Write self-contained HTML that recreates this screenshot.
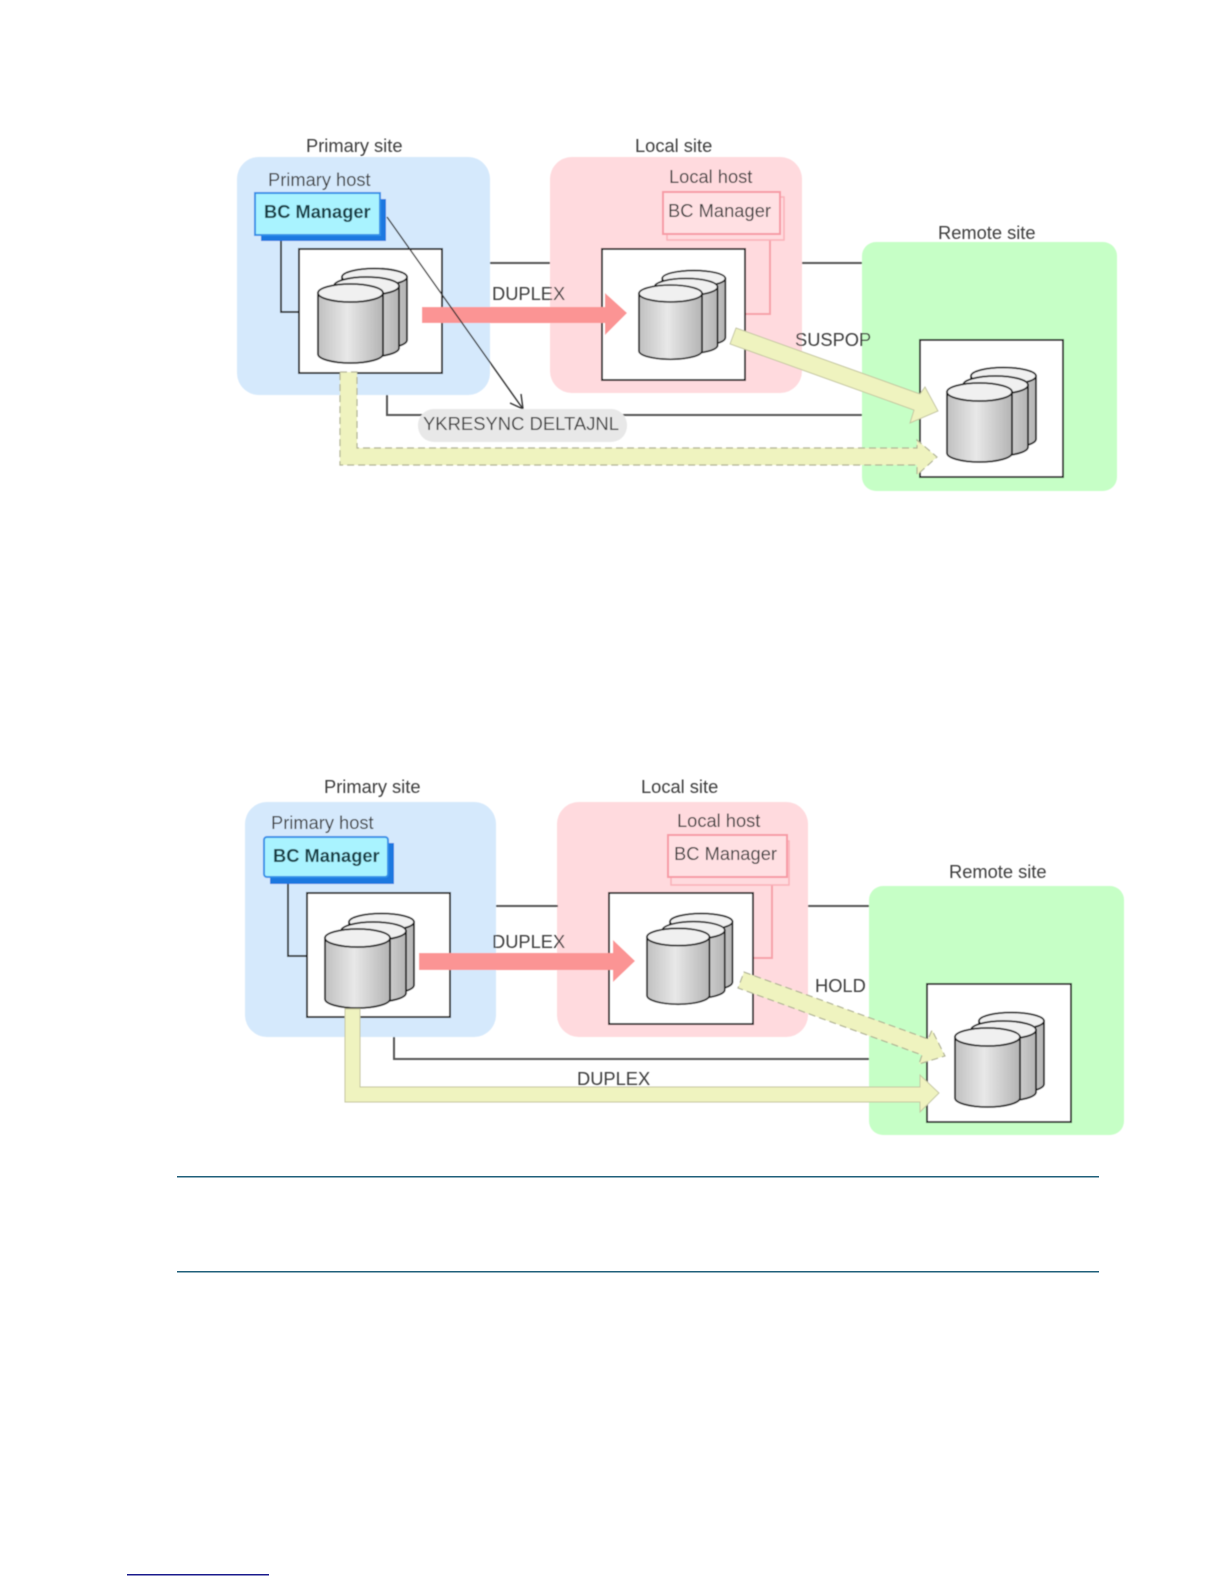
<!DOCTYPE html>
<html>
<head>
<meta charset="utf-8">
<style>
html,body{margin:0;padding:0;background:#fff;width:1224px;height:1584px;overflow:hidden}
svg{display:block}
text{font-family:"Liberation Sans",sans-serif;font-size:18.3px;fill:#3c3c3c}
.b{font-weight:bold;fill:#123c44}
.st{fill:#fff;stroke:#222;stroke-width:2}
.ln{fill:none;stroke:#555;stroke-width:2}
.pk{fill:none;stroke:#f7a0a8;stroke-width:2}
.yo{fill:#eff3bf;stroke:#c4c6a0;stroke-width:1}
.yd{fill:#eff3bf;stroke:#b0b294;stroke-width:1.2;stroke-dasharray:7 4}
.c{stroke:#1c1c1c;stroke-width:1.8}
</style>
</head>
<body>
<svg width="1224" height="1584" viewBox="0 0 1224 1584" xmlns="http://www.w3.org/2000/svg">
<defs>
<linearGradient id="g" x1="0" x2="1" y1="0" y2="0">
<stop offset="0" stop-color="#c0c0c0"/><stop offset=".45" stop-color="#e8e8e8"/><stop offset="1" stop-color="#b4b4b4"/>
</linearGradient>
<filter id="bl" x="-2%" y="-2%" width="104%" height="104%"><feGaussianBlur stdDeviation="0.6"/></filter>
<g id="cy">
<g class="c">
<path d="M24 9V72A32.500 9 0 0 0 89 72V9Z" fill="url(#g)"/><ellipse cx="56.500" cy="9" rx="32.500" ry="8.500" fill="#f0f0f0"/>
<path d="M16 18V80A32.500 9 0 0 0 81 80V18Z" fill="url(#g)"/><ellipse cx="48.500" cy="18" rx="32.500" ry="9" fill="#f0f0f0"/>
<path d="M0 25V86A32.500 9 0 0 0 65 86V25Z" fill="url(#g)"/><ellipse cx="32.500" cy="25" rx="32.500" ry="9" fill="#f0f0f0"/>
</g>
</g>
</defs>
<g filter="url(#bl)">
<!-- Diagram 1 -->
<rect x="237" y="157" width="253" height="238" rx="22" fill="#d5e9fc"/>
<rect x="550" y="157" width="252" height="236" rx="22" fill="#ffdade"/>
<rect x="862" y="242" width="255" height="249" rx="14" fill="#c6ffc6"/>
<path class="ln" d="M490 263H550M802 263H862M387 395V415H862"/>
<path class="ln" style="stroke:#333" d="M281 241V312H299"/>
<path class="pk" d="M770 240V314H745"/>
<rect x="299" y="249" width="143" height="124" class="st"/>
<rect x="602" y="249" width="143" height="131" class="st"/>
<rect x="920" y="340" width="143" height="137" class="st"/>
<use href="#cy" transform="translate(318 268)"/>
<use href="#cy" transform="translate(639 270) scale(.97 .94)"/>
<use href="#cy" transform="translate(947 367)"/>
<rect x="261" y="199" width="125" height="42" fill="#1a78e0"/>
<rect x="255" y="193" width="125" height="42" fill="#a9f3ff" stroke="#2f8fe8" stroke-width="2"/>
<rect x="667" y="197" width="117" height="43" fill="none" stroke="#f9b0b8" stroke-width="1.500"/>
<rect x="663" y="192" width="117" height="42" fill="#ffe0e3" stroke="#f79aa4" stroke-width="2"/>
<path d="M422 307H605V293L627 313L605 335V323H422Z" fill="#fb9494"/>
<path class="yo" d="M736 328L920 394L925 387L938 411L910 423L914 410L730 344Z"/>
<path class="yd" d="M340 372H357V448H917V440L937 457L917 475V465H340Z"/>
<path d="M387 217L523 409M523 409L510 403M523 409L521 394" fill="none" stroke="#333" stroke-width="1.400"/>
<rect x="418" y="409" width="209" height="33" rx="16" fill="#e8e8e8"/>
<text x="306" y="152">Primary site</text>
<text x="268" y="186">Primary host</text>
<text x="264" y="218" class="b">BC Manager</text>
<text x="635" y="152">Local site</text>
<text x="669" y="183">Local host</text>
<text x="668" y="217" textLength="103">BC Manager</text>
<text x="938" y="239">Remote site</text>
<text x="492" y="300">DUPLEX</text>
<text x="795" y="346">SUSPOP</text>
<text x="423" y="430" textLength="196" lengthAdjust="spacingAndGlyphs">YKRESYNC DELTAJNL</text>

<!-- Diagram 2 -->
<rect x="245" y="802" width="251" height="235" rx="22" fill="#d5e9fc"/>
<rect x="557" y="802" width="251" height="235" rx="22" fill="#ffdade"/>
<rect x="869" y="886" width="255" height="249" rx="14" fill="#c6ffc6"/>
<path class="ln" d="M496 906H558M808 906H869M394 1037V1059H869"/>
<path class="ln" style="stroke:#333" d="M288 884V956H307"/>
<path class="pk" d="M772 885V958H753"/>
<rect x="307" y="893" width="143" height="124" class="st"/>
<rect x="609" y="893" width="144" height="131" class="st"/>
<rect x="927" y="984" width="144" height="138" class="st"/>
<use href="#cy" transform="translate(325 913)"/>
<use href="#cy" transform="translate(647 913) scale(.96 .96)"/>
<use href="#cy" transform="translate(955 1012)"/>
<rect x="270" y="843" width="124" height="41" fill="#1a78e0"/>
<rect x="264" y="837" width="124" height="40" rx="3" fill="#a9f3ff" stroke="#2f8fe8" stroke-width="2"/>
<rect x="671" y="841" width="118" height="44" fill="none" stroke="#f9b0b8" stroke-width="1.500"/>
<rect x="668" y="835" width="119" height="42" fill="#ffe0e3" stroke="#f79aa4" stroke-width="2"/>
<path d="M419 953H613V940L635 961L613 982V970H419Z" fill="#fb9494"/>
<path class="yd" d="M744 972L928 1039L932 1030L945 1056L919 1064L922 1055L738 988Z"/>
<path class="yo" d="M345 1009H360V1087H920V1075L939 1093L920 1112V1102H345Z"/>
<text x="324" y="793">Primary site</text>
<text x="271" y="829">Primary host</text>
<text x="273" y="862" class="b">BC Manager</text>
<text x="641" y="793">Local site</text>
<text x="677" y="827">Local host</text>
<text x="674" y="860" textLength="103">BC Manager</text>
<text x="949" y="878">Remote site</text>
<text x="492" y="948">DUPLEX</text>
<text x="815" y="992">HOLD</text>
<text x="577" y="1085">DUPLEX</text>
</g>
<rect x="177" y="1176" width="922" height="1.500" fill="#1f5f7a"/>
<rect x="177" y="1271" width="922" height="1.500" fill="#1f5f7a"/>
<rect x="127" y="1574" width="142" height="1.500" fill="#1a1a8c"/>
</svg>
</body>
</html>
